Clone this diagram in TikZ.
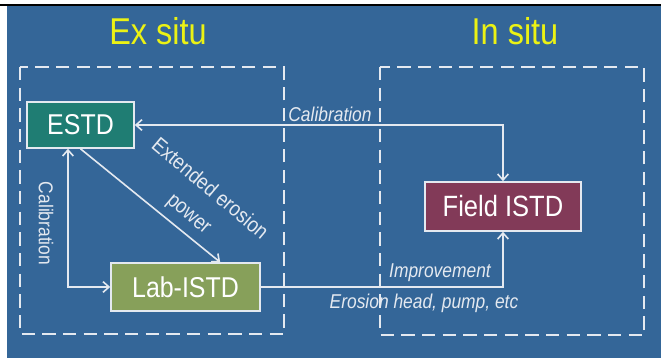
\documentclass[tikz,border=0pt]{standalone}
\usepackage{fontspec}
\setmainfont{Liberation Sans}[FakeStretch=0.87]
\usetikzlibrary{arrows.meta}

\definecolor{slideblue}{RGB}{52,102,152}
\definecolor{linkgray}{RGB}{228,233,240}
\definecolor{titleyellow}{RGB}{235,242,20}
\definecolor{estdteal}{RGB}{31,125,115}
\definecolor{labolive}{RGB}{135,160,90}
\definecolor{fieldmaroon}{RGB}{130,58,88}

\tikzset{every picture/.style={line width=0.75pt}}
\tikzset{
  devbox/.style={draw=linkgray, line width=1.2pt, inner sep=0pt, text=white,
    font=\fontsize{21.5}{24}\selectfont},
  zone/.style={draw=linkgray, line width=1.5pt, dash pattern=on 10pt off 5.5pt},
  link/.style={draw=linkgray, line width=1.2pt},
  tip/.tip={Straight Barb[length=4.5pt,width=8pt,line width=1.2pt]},
  note/.style={text=linkgray, inner sep=0.75pt, font=\fontsize{15}{18}\selectfont}
}

\begin{document}
\begin{tikzpicture}[x=0.75pt,y=0.75pt,yscale=-1,xscale=1]
        \useasboundingbox (0,0) rectangle (661,358);

        %Background
        \fill[slideblue] (7,5.5) rectangle (661,358);
        \draw[line width=1.5pt] (0,4.5) -- (661,4.5);

        %Shape: Dashed Rectangles
        \draw[zone] (20,67) rectangle (284,334);
        \draw[zone] (380,67) rectangle (644,335);

        % Text Node
        \node[text=titleyellow, font=\fontsize{28}{30}\selectfont] (exsitu) at (158,31) {Ex situ};
        % Text Node
        \node[text=titleyellow, font=\fontsize{28}{30}\selectfont] (insitu) at (515,31) {In situ};

        %Shape: Boxes
        \node[devbox, fill=estdteal, minimum width=80.25pt, minimum height=34.5pt] (estd) at (80.5,125) {ESTD};
        \node[devbox, fill=labolive, minimum width=111.75pt, minimum height=36pt] (lab) at (185.5,287) {Lab-ISTD};
        \node[devbox, fill=fieldmaroon, minimum width=117pt, minimum height=36.75pt, font=\fontsize{22}{24}\selectfont] (field) at (503,206.5) {Field ISTD};

        %Straight Lines
        \draw[link, tip-tip] (estd.east) -- (estd.east -| field.north) -- (field.north);
        %Straight Lines
        \draw[link, tip-tip] ([xshift=-9.4pt]estd.south) |- (lab.west);
        %Straight Lines
        \draw[link, -tip] (estd.south) -- ([xshift=26pt]lab.north);
        %Straight Lines
        \draw[link, -tip] (lab.east) -| (field.south);

        % Text Node
        \node[note, font=\fontsize{15}{18}\itshape] (calibtop) at (330,114) {Calibration};
        % Text Node
        \node[note, rotate=-90] (calibleft) at (46,223.5) {Calibration};
        % Text Node
        \node[note, rotate=-40, align=center, font=\fontsize{16}{24}\selectfont] (extended) at (199,202) {Extended erosion\\power};
        % Text Node
        \node[note, font=\fontsize{15}{18}\itshape] (improve) at (440,273) {Improvement};
        % Text Node
        \node[note, font=\fontsize{15}{18}\itshape] (erosion) at (424,303) {Erosion head, pump, etc};
\end{tikzpicture}
\end{document}
